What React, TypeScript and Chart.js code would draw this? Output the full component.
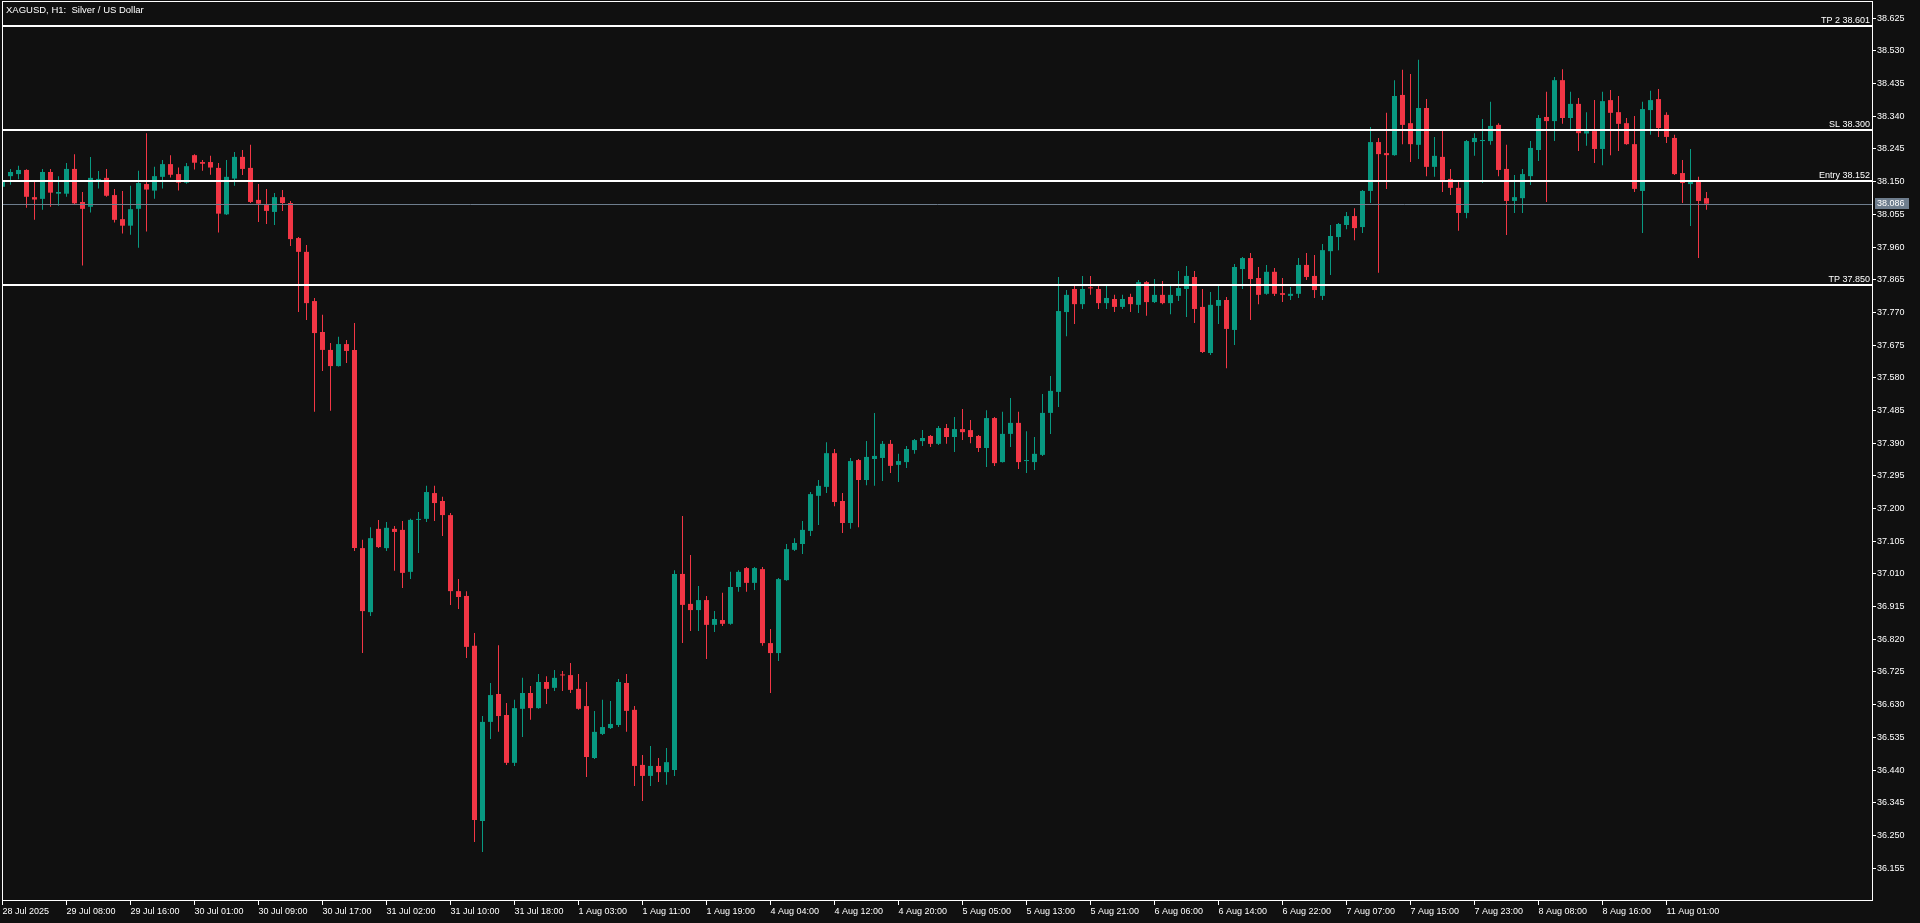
import React, { useEffect, useRef } from 'react';
import { Chart, registerables } from 'chart.js';

Chart.register(...registerables);

const CHART_TITLE = 'XAGUSD, H1:  Silver / US Dollar';

const timeLabels = ['28 Jul 2025', '29 Jul 08:00', '29 Jul 16:00', '30 Jul 01:00', '30 Jul 09:00', '30 Jul 17:00', '31 Jul 02:00', '31 Jul 10:00', '31 Jul 18:00', '1 Aug 03:00', '1 Aug 11:00', '1 Aug 19:00', '4 Aug 04:00', '4 Aug 12:00', '4 Aug 20:00', '5 Aug 05:00', '5 Aug 13:00', '5 Aug 21:00', '6 Aug 06:00', '6 Aug 14:00', '6 Aug 22:00', '7 Aug 07:00', '7 Aug 15:00', '7 Aug 23:00', '8 Aug 08:00', '8 Aug 16:00', '11 Aug 01:00'];
const timeLabelBars = [0, 8, 16, 24, 32, 40, 48, 56, 64, 72, 80, 88, 96, 104, 112, 120, 128, 136, 144, 152, 160, 168, 176, 184, 192, 200, 208];

const opens = [
  38.135, 38.166, 38.172, 38.184, 38.105, 38.100, 38.178, 38.115, 38.115, 38.187,
  38.091, 38.077, 38.155, 38.161, 38.111, 38.041, 38.022, 38.071, 38.143, 38.124,
  38.164, 38.201, 38.172, 38.147, 38.227, 38.207, 38.207, 38.190, 38.055, 38.159,
  38.222, 38.190, 38.097, 38.082, 38.062, 38.105, 38.088, 37.986, 37.946, 37.803,
  37.713, 37.661, 37.614, 37.678, 37.661, 37.085, 36.899, 37.141, 37.085, 37.141,
  37.138, 37.016, 37.167, 37.170, 37.245, 37.222, 37.181, 36.960, 36.946, 36.801,
  36.292, 36.580, 36.661, 36.600, 36.461, 36.618, 36.664, 36.620, 36.696, 36.679,
  36.716, 36.716, 36.676, 36.626, 36.475, 36.545, 36.562, 36.571, 36.693, 36.615,
  36.455, 36.423, 36.452, 36.434, 36.440, 37.010, 36.923, 36.905, 36.934, 36.862,
  36.876, 36.865, 36.972, 37.027, 36.984, 37.024, 36.809, 36.780, 36.992, 37.080,
  37.097, 37.135, 37.237, 37.263, 37.361, 37.222, 37.158, 37.341, 37.283, 37.344,
  37.347, 37.388, 37.327, 37.335, 37.370, 37.396, 37.411, 37.388, 37.434, 37.408,
  37.431, 37.428, 37.411, 37.376, 37.463, 37.335, 37.417, 37.449, 37.338, 37.335,
  37.356, 37.478, 37.539, 37.771, 37.838, 37.794, 37.841, 37.838, 37.797, 37.809,
  37.786, 37.815, 37.792, 37.858, 37.800, 37.821, 37.797, 37.818, 37.838, 37.873,
  37.786, 37.652, 37.789, 37.806, 37.719, 37.896, 37.928, 37.870, 37.824, 37.888,
  37.826, 37.818, 37.824, 37.908, 37.876, 37.818, 37.948, 37.989, 38.024, 38.050,
  38.018, 38.123, 38.265, 38.233, 38.227, 38.402, 38.320, 38.257, 38.364, 38.193,
  38.222, 38.158, 38.132, 38.059, 38.265, 38.268, 38.268, 38.315, 38.187, 38.094,
  38.102, 38.166, 38.242, 38.338, 38.326, 38.445, 38.335, 38.376, 38.290, 38.297,
  38.245, 38.387, 38.352, 38.320, 38.259, 38.123, 38.358, 38.390, 38.344, 38.277,
  38.175, 38.143, 38.152, 38.102
];
const highs = [
  38.158, 38.187, 38.196, 38.186, 38.150, 38.187, 38.187, 38.166, 38.204, 38.230,
  38.120, 38.222, 38.181, 38.187, 38.129, 38.123, 38.138, 38.182, 38.291, 38.193,
  38.213, 38.227, 38.191, 38.204, 38.230, 38.213, 38.225, 38.204, 38.213, 38.236,
  38.242, 38.257, 38.143, 38.129, 38.117, 38.126, 38.094, 37.989, 37.966, 37.812,
  37.763, 37.681, 37.699, 37.690, 37.739, 37.109, 37.146, 37.167, 37.161, 37.149,
  37.164, 37.170, 37.190, 37.266, 37.266, 37.234, 37.187, 36.995, 36.960, 36.838,
  36.597, 36.693, 36.803, 36.635, 36.644, 36.708, 36.684, 36.719, 36.713, 36.731,
  36.728, 36.751, 36.719, 36.696, 36.612, 36.644, 36.641, 36.705, 36.719, 36.626,
  36.484, 36.510, 36.475, 36.504, 37.021, 37.178, 37.065, 36.975, 36.946, 36.902,
  36.955, 37.016, 37.021, 37.030, 37.030, 37.030, 36.850, 36.998, 37.097, 37.114,
  37.164, 37.248, 37.283, 37.393, 37.373, 37.245, 37.347, 37.344, 37.396, 37.478,
  37.396, 37.399, 37.359, 37.382, 37.402, 37.428, 37.414, 37.440, 37.446, 37.466,
  37.489, 37.457, 37.414, 37.486, 37.466, 37.481, 37.521, 37.481, 37.425, 37.408,
  37.533, 37.585, 37.873, 37.835, 37.850, 37.876, 37.876, 37.847, 37.847, 37.821,
  37.821, 37.824, 37.864, 37.861, 37.867, 37.861, 37.847, 37.890, 37.905, 37.890,
  37.838, 37.829, 37.847, 37.815, 37.911, 37.931, 37.943, 37.902, 37.908, 37.899,
  37.870, 37.844, 37.928, 37.943, 37.937, 37.969, 38.024, 38.030, 38.062, 38.073,
  38.126, 38.309, 38.277, 38.350, 38.445, 38.475, 38.463, 38.504, 38.390, 38.280,
  38.300, 38.187, 38.149, 38.271, 38.291, 38.332, 38.382, 38.320, 38.257, 38.169,
  38.187, 38.268, 38.344, 38.411, 38.454, 38.477, 38.411, 38.393, 38.352, 38.387,
  38.411, 38.416, 38.399, 38.335, 38.341, 38.382, 38.414, 38.419, 38.352, 38.286,
  38.213, 38.245, 38.164, 38.120
];
const lows = [
  38.129, 38.141, 38.157, 38.074, 38.039, 38.068, 38.077, 38.080, 38.106, 38.083,
  37.906, 38.060, 38.130, 38.106, 38.031, 37.999, 37.996, 37.958, 38.005, 38.100,
  38.130, 38.162, 38.124, 38.144, 38.185, 38.182, 38.170, 38.002, 38.053, 38.138,
  38.169, 38.088, 38.033, 38.027, 38.024, 38.065, 37.963, 37.771, 37.748, 37.481,
  37.600, 37.484, 37.613, 37.623, 37.077, 36.780, 36.888, 37.085, 37.077, 37.019,
  36.969, 36.995, 37.071, 37.161, 37.164, 37.120, 36.920, 36.908, 36.766, 36.231,
  36.202, 36.530, 36.551, 36.455, 36.452, 36.536, 36.586, 36.618, 36.632, 36.670,
  36.670, 36.664, 36.615, 36.420, 36.472, 36.542, 36.559, 36.565, 36.551, 36.394,
  36.350, 36.394, 36.405, 36.397, 36.423, 36.809, 36.844, 36.844, 36.763, 36.841,
  36.859, 36.862, 36.958, 36.958, 36.963, 36.801, 36.664, 36.757, 36.990, 37.077,
  37.068, 37.120, 37.152, 37.245, 37.207, 37.129, 37.141, 37.146, 37.268, 37.266,
  37.280, 37.303, 37.277, 37.318, 37.359, 37.382, 37.379, 37.385, 37.388, 37.364,
  37.399, 37.390, 37.364, 37.321, 37.324, 37.334, 37.379, 37.315, 37.303, 37.312,
  37.353, 37.417, 37.495, 37.701, 37.736, 37.780, 37.821, 37.780, 37.780, 37.771,
  37.780, 37.771, 37.768, 37.760, 37.797, 37.794, 37.765, 37.803, 37.757, 37.739,
  37.652, 37.646, 37.736, 37.608, 37.675, 37.838, 37.748, 37.794, 37.821, 37.818,
  37.800, 37.806, 37.812, 37.864, 37.812, 37.806, 37.879, 37.951, 38.012, 37.980,
  38.001, 38.088, 37.885, 38.129, 38.225, 38.259, 38.207, 38.216, 38.166, 38.164,
  38.120, 38.111, 38.007, 38.044, 38.225, 38.146, 38.257, 38.166, 37.995, 38.059,
  38.059, 38.140, 38.210, 38.091, 38.268, 38.318, 38.303, 38.239, 38.254, 38.204,
  38.198, 38.227, 38.239, 38.257, 38.120, 38.001, 38.286, 38.280, 38.262, 38.169,
  38.088, 38.021, 37.928, 38.068
];
const closes = [
  38.150, 38.178, 38.184, 38.106, 38.098, 38.178, 38.118, 38.120, 38.187, 38.087,
  38.071, 38.161, 38.158, 38.109, 38.039, 38.022, 38.070, 38.146, 38.127, 38.166,
  38.201, 38.170, 38.147, 38.195, 38.205, 38.202, 38.191, 38.057, 38.164, 38.222,
  38.187, 38.091, 38.086, 38.065, 38.105, 38.088, 37.983, 37.946, 37.797, 37.710,
  37.661, 37.614, 37.678, 37.658, 37.085, 36.902, 37.114, 37.088, 37.144, 37.132,
  37.013, 37.167, 37.168, 37.248, 37.216, 37.181, 36.960, 36.943, 36.798, 36.295,
  36.580, 36.658, 36.597, 36.461, 36.620, 36.664, 36.620, 36.696, 36.676, 36.708,
  36.715, 36.673, 36.618, 36.478, 36.551, 36.565, 36.574, 36.696, 36.612, 36.452,
  36.423, 36.452, 36.434, 36.463, 37.010, 36.920, 36.905, 36.934, 36.862, 36.879,
  36.865, 36.972, 37.016, 36.984, 37.027, 36.809, 36.780, 36.995, 37.082, 37.100,
  37.138, 37.242, 37.266, 37.361, 37.219, 37.158, 37.338, 37.283, 37.350, 37.353,
  37.388, 37.324, 37.338, 37.373, 37.399, 37.405, 37.388, 37.434, 37.408, 37.431,
  37.422, 37.408, 37.376, 37.463, 37.332, 37.417, 37.449, 37.335, 37.339, 37.359,
  37.478, 37.542, 37.774, 37.821, 37.794, 37.838, 37.840, 37.797, 37.812, 37.786,
  37.809, 37.794, 37.858, 37.800, 37.821, 37.797, 37.821, 37.841, 37.876, 37.780,
  37.655, 37.792, 37.806, 37.722, 37.902, 37.928, 37.867, 37.821, 37.888, 37.824,
  37.821, 37.824, 37.908, 37.873, 37.835, 37.951, 37.992, 38.027, 38.050, 38.015,
  38.123, 38.265, 38.230, 38.227, 38.399, 38.315, 38.259, 38.364, 38.193, 38.225,
  38.155, 38.132, 38.059, 38.268, 38.277, 38.271, 38.312, 38.184, 38.094, 38.105,
  38.172, 38.248, 38.335, 38.326, 38.445, 38.335, 38.376, 38.291, 38.297, 38.245,
  38.384, 38.350, 38.318, 38.259, 38.129, 38.361, 38.387, 38.306, 38.280, 38.172,
  38.146, 38.149, 38.094, 38.086
];

const priceTicks = [38.625, 38.530, 38.435, 38.340, 38.245, 38.150, 38.055, 37.960, 37.865, 37.770, 37.675, 37.580, 37.485, 37.390, 37.295, 37.200, 37.105, 37.010, 36.915, 36.820, 36.725, 36.630, 36.535, 36.440, 36.345, 36.250, 36.155];

const levelNames = ['TP 2', 'SL', 'Entry', 'TP'];
const levelValues = [38.601, 38.300, 38.152, 37.850];
const currentPrice = 38.086;

const BG = '#101010';
const FG = '#ffffff';
const BULL = '#089981';
const BEAR = '#f23645';
const PRICE_LINE = '#6e7d8d';
const PRICE_BOX = '#6e7d8d';

function hasNarrowFont(): boolean {
  const c = document.createElement('canvas').getContext('2d');
  if (!c) return false;
  const s = '38.625 Jul Aug Entry';
  c.font = '11px monospace';
  const a = c.measureText(s).width;
  c.font = '11px "Liberation Sans Narrow", monospace';
  const b = c.measureText(s).width;
  return Math.abs(a - b) > 0.5;
}

export default function App() {
  const ref = useRef<HTMLCanvasElement | null>(null);

  useEffect(() => {
    const canvas = ref.current;
    if (!canvas) return;
    const narrow = hasNarrowFont();
    const family = narrow ? '"Liberation Sans Narrow", "Liberation Sans", sans-serif' : '"Liberation Sans", Arial, sans-serif';
    const size = narrow ? 11 : 9;
    const titleSize = narrow ? 11.5 : 9.5;

    const colors = closes.map((c, i) => (c >= opens[i] ? BULL : BEAR));
    const bodyData = opens.map((o, i) => ({ x: i, y: [o, closes[i]] }));
    const wickData = lows.map((l, i) => ({ x: i, y: [l, highs[i]] }));

    const overlay = {
      id: 'mt5overlay',
      beforeDraw(chart: any) {
        const { ctx, width, height } = chart;
        ctx.save();
        ctx.fillStyle = BG;
        ctx.fillRect(0, 0, width, height);
        ctx.restore();
      },
      afterDatasetsDraw(chart: any) {
        const { ctx, chartArea: a, scales } = chart;
        const y = scales.y;
        ctx.save();
        const py = Math.round(y.getPixelForValue(currentPrice)) + 0.5;
        ctx.strokeStyle = PRICE_LINE;
        ctx.lineWidth = 1;
        ctx.beginPath();
        ctx.moveTo(a.left, py);
        ctx.lineTo(a.right, py);
        ctx.stroke();

        ctx.font = `${size}px ${family}`;
        ctx.textAlign = 'right';
        ctx.textBaseline = 'alphabetic';
        ctx.fillStyle = FG;
        levelValues.forEach((v, k) => {
          const ly = Math.round(y.getPixelForValue(v));
          ctx.fillRect(a.left, ly - 1, a.right - a.left, 2);
          ctx.fillText(`${levelNames[k]} ${v.toFixed(3)}`, a.right - 2, ly - 3);
        });

        ctx.strokeStyle = FG;
        ctx.lineWidth = 1;
        ctx.strokeRect(a.left - 0.5, a.top - 0.5, a.right - a.left + 1, a.bottom - a.top + 1);
        ctx.restore();
      },
      afterDraw(chart: any) {
        const { ctx, chartArea: a, scales } = chart;
        const y = scales.y;
        ctx.save();
        ctx.font = `${titleSize}px ${family}`;
        ctx.fillStyle = FG;
        ctx.textAlign = 'left';
        ctx.textBaseline = 'alphabetic';
        ctx.fillText(CHART_TITLE, 6, 13);

        const cy = Math.round(y.getPixelForValue(currentPrice));
        ctx.fillStyle = PRICE_BOX;
        ctx.fillRect(a.right + 3, cy - 6, 34, 11);
        ctx.fillStyle = FG;
        ctx.font = `${size}px ${family}`;
        ctx.textBaseline = 'middle';
        ctx.fillText(currentPrice.toFixed(3), a.right + 5, cy - 0.5);
        ctx.restore();
      },
    };

    const chart = new Chart(canvas, {
      type: 'bar',
      data: {
        datasets: [
          {
            label: 'wicks',
            data: wickData as any,
            backgroundColor: colors,
            borderWidth: 0,
            barThickness: 1,
            grouped: false,
            inflateAmount: 0,
            clip: 0,
            order: 2,
          } as any,
          {
            label: 'bodies',
            data: bodyData as any,
            backgroundColor: colors,
            borderWidth: 0,
            barThickness: 5,
            minBarLength: 1,
            grouped: false,
            inflateAmount: 0,
            clip: 0,
            order: 1,
          } as any,
        ],
      },
      options: {
        animation: false,
        responsive: false,
        maintainAspectRatio: false,
        devicePixelRatio: 1,
        events: [],
        layout: { padding: { left: 3, top: 2, right: 0, bottom: 0 } },
        plugins: {
          legend: { display: false },
          tooltip: { enabled: false },
          title: { display: false },
        },
        scales: {
          x: {
            type: 'linear',
            position: 'bottom',
            min: 0.0625,
            max: 233.6875,
            bounds: 'data',
            offset: false,
            afterBuildTicks: (s: any) => {
              s.ticks = timeLabelBars.map((v) => ({ value: v }));
            },
            afterFit: (s: any) => {
              s.height = 23;
              s.paddingLeft = 0;
              s.paddingRight = 0;
            },
            ticks: {
              autoSkip: false,
              maxRotation: 0,
              minRotation: 0,
              align: 'start',
              padding: 1,
              color: FG,
              font: { family, size },
              callback: (_v: any, idx: number) => timeLabels[idx],
            },
            grid: { display: true, drawOnChartArea: false, drawTicks: true, tickLength: 5, color: FG, lineWidth: 1, offset: false },
            border: { display: true, color: FG, width: 1 },
          } as any,
          y: {
            type: 'linear',
            position: 'right',
            min: 36.0624,
            max: 38.6721,
            bounds: 'data',
            afterBuildTicks: (s: any) => {
              s.ticks = priceTicks.map((v) => ({ value: v }));
            },
            afterFit: (s: any) => {
              s.width = 48;
              s.paddingTop = 0;
              s.paddingBottom = 0;
            },
            ticks: {
              autoSkip: false,
              padding: 1,
              color: FG,
              font: { family, size },
              callback: (v: any) => Number(v).toFixed(3),
            },
            grid: { display: true, drawOnChartArea: false, drawTicks: true, tickLength: 4, color: FG, lineWidth: 1 },
            border: { display: true, color: FG, width: 1 },
          } as any,
        },
      },
      plugins: [overlay],
    } as any);

    return () => {
      chart.destroy();
    };
  }, []);

  return (
    <div style={{ position: 'fixed', left: 0, top: 0, width: 1920, height: 923, background: BG, overflow: 'hidden' }}>
      <canvas ref={ref} width={1920} height={923} style={{ display: 'block', width: 1920, height: 923 }} />
    </div>
  );
}
